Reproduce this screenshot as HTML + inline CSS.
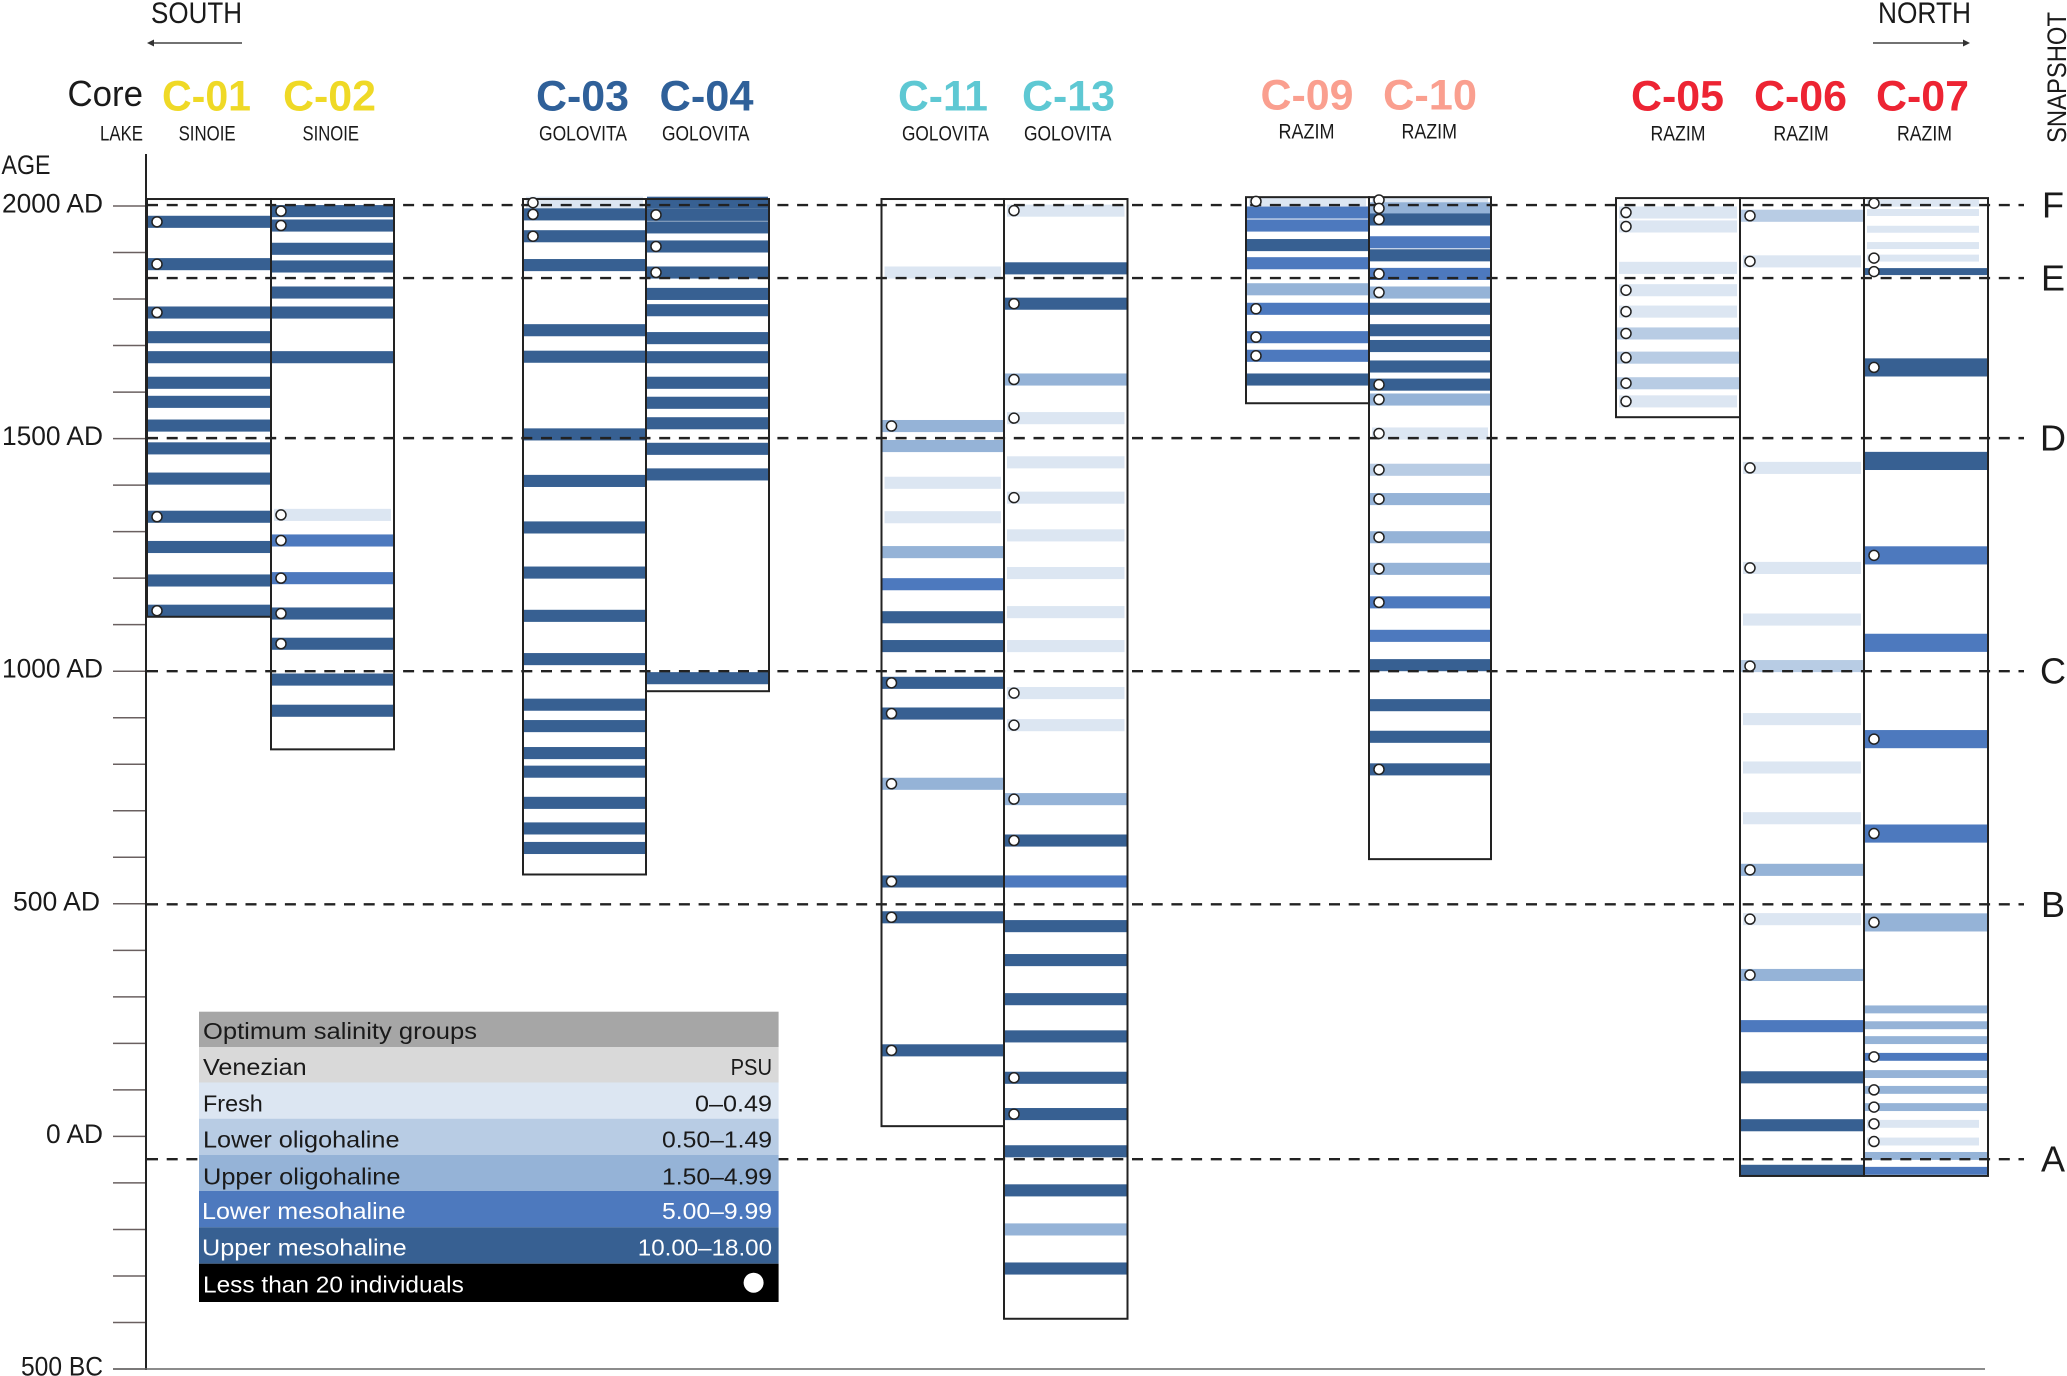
<!DOCTYPE html>
<html lang="en">
<head>
<meta charset="utf-8">
<title>Optimum salinity groups in sediment cores</title>
<style>
html,body{margin:0;padding:0;background:#fff;width:2067px;height:1376px;overflow:hidden}
svg{display:block}
text{font-family:"Liberation Sans",sans-serif;fill:#1a1a1a}
.core{font-weight:700;font-size:43px}
.sub{font-size:21px}
.leg{font-size:23px}
</style>
</head>
<body>
<svg id="chart" xmlns="http://www.w3.org/2000/svg" width="2067" height="1376" viewBox="0 0 2067 1376">
  <rect x="0" y="0" width="2067" height="1376" fill="#fff"/>

  <text x="151" y="23" font-size="30" textLength="91" lengthAdjust="spacingAndGlyphs">SOUTH</text>
  <g><line x1="150" y1="43" x2="242" y2="43" stroke="#444" stroke-width="1.6"/><path d="M147 43l7-3.500v7z" fill="#333"/></g>
  <text x="1878" y="23" font-size="30" textLength="93" lengthAdjust="spacingAndGlyphs">NORTH</text>
  <g><line x1="1873" y1="43" x2="1966" y2="43" stroke="#444" stroke-width="1.6"/><path d="M1970 43l-7-3.500v7z" fill="#333"/></g>
  <text transform="translate(2066,143) rotate(-90)" font-size="27" textLength="131" lengthAdjust="spacingAndGlyphs">SNAPSHOT</text>

  <text x="67.500" y="106" font-size="36" textLength="75.500" lengthAdjust="spacingAndGlyphs">Core</text>
  <text x="100" y="140.700" class="sub" textLength="43" lengthAdjust="spacingAndGlyphs">LAKE</text>
  <text x="1.500" y="174" font-size="27" textLength="49" lengthAdjust="spacingAndGlyphs">AGE</text>

  <text class="core" x="162" y="110.700" style="fill:#efd926" textLength="89" lengthAdjust="spacingAndGlyphs">C-01</text>
  <text class="core" x="283" y="110.700" style="fill:#efd926" textLength="93" lengthAdjust="spacingAndGlyphs">C-02</text>
  <text class="core" x="536" y="110.700" style="fill:#2f6099" textLength="93" lengthAdjust="spacingAndGlyphs">C-03</text>
  <text class="core" x="659.500" y="110.700" style="fill:#2f6099" textLength="94" lengthAdjust="spacingAndGlyphs">C-04</text>
  <text class="core" x="898" y="110.700" style="fill:#5ec8d3" textLength="90" lengthAdjust="spacingAndGlyphs">C-11</text>
  <text class="core" x="1022" y="110.700" style="fill:#5ec8d3" textLength="93" lengthAdjust="spacingAndGlyphs">C-13</text>
  <text class="core" x="1260.500" y="109.300" style="fill:#fa9f8f" textLength="93" lengthAdjust="spacingAndGlyphs">C-09</text>
  <text class="core" x="1383" y="109.300" style="fill:#fa9f8f" textLength="94" lengthAdjust="spacingAndGlyphs">C-10</text>
  <text class="core" x="1631" y="110.700" style="fill:#ed2433" textLength="93" lengthAdjust="spacingAndGlyphs">C-05</text>
  <text class="core" x="1754" y="110.700" style="fill:#ed2433" textLength="93" lengthAdjust="spacingAndGlyphs">C-06</text>
  <text class="core" x="1876" y="110.700" style="fill:#ed2433" textLength="93" lengthAdjust="spacingAndGlyphs">C-07</text>

  <text class="sub" x="178.600" y="140.700" textLength="57" lengthAdjust="spacingAndGlyphs">SINOIE</text>
  <text class="sub" x="302.500" y="140.700" textLength="56.500" lengthAdjust="spacingAndGlyphs">SINOIE</text>
  <text class="sub" x="539" y="140.700" textLength="88" lengthAdjust="spacingAndGlyphs">GOLOVITA</text>
  <text class="sub" x="662" y="140.700" textLength="87.500" lengthAdjust="spacingAndGlyphs">GOLOVITA</text>
  <text class="sub" x="902" y="140.700" textLength="87" lengthAdjust="spacingAndGlyphs">GOLOVITA</text>
  <text class="sub" x="1024" y="140.700" textLength="87.500" lengthAdjust="spacingAndGlyphs">GOLOVITA</text>
  <text class="sub" x="1278.500" y="138.700" textLength="56" lengthAdjust="spacingAndGlyphs">RAZIM</text>
  <text class="sub" x="1401.500" y="138.700" textLength="55.500" lengthAdjust="spacingAndGlyphs">RAZIM</text>
  <text class="sub" x="1650.500" y="140.700" textLength="55" lengthAdjust="spacingAndGlyphs">RAZIM</text>
  <text class="sub" x="1773.400" y="140.700" textLength="55.300" lengthAdjust="spacingAndGlyphs">RAZIM</text>
  <text class="sub" x="1897" y="140.700" textLength="55" lengthAdjust="spacingAndGlyphs">RAZIM</text>

  <g id="marks"></g>

  <g>
    <g><rect x="199" y="1011.700" width="579.600" height="35.300" fill="#a6a6a6"/><text class="leg" x="203" y="1039" textLength="274" lengthAdjust="spacingAndGlyphs">Optimum salinity groups</text></g>
    <g><rect x="199" y="1047" width="579.600" height="35.500" fill="#d9d9d9"/><text class="leg" x="203" y="1075" textLength="103.600" lengthAdjust="spacingAndGlyphs">Venezian</text><text class="leg" x="730.600" y="1075" textLength="41.400" lengthAdjust="spacingAndGlyphs">PSU</text></g>
    <g><rect x="199" y="1082.500" width="579.600" height="36.300" fill="#dce6f2"/><text class="leg" x="203" y="1111.300" textLength="59.800" lengthAdjust="spacingAndGlyphs">Fresh</text><text class="leg" x="695" y="1111.300" textLength="77" lengthAdjust="spacingAndGlyphs">0–0.49</text></g>
    <g><rect x="199" y="1118.700" width="579.600" height="36.300" fill="#b8cce4"/><text class="leg" x="203" y="1147.700" textLength="196.500" lengthAdjust="spacingAndGlyphs">Lower oligohaline</text><text class="leg" x="662" y="1147.700" textLength="110" lengthAdjust="spacingAndGlyphs">0.50–1.49</text></g>
    <g><rect x="199" y="1155" width="579.600" height="36" fill="#95b3d7"/><text class="leg" x="203" y="1184.300" textLength="197.500" lengthAdjust="spacingAndGlyphs">Upper oligohaline</text><text class="leg" x="662" y="1184.300" textLength="110" lengthAdjust="spacingAndGlyphs">1.50–4.99</text></g>
    <g><rect x="199" y="1191" width="579.600" height="36.300" fill="#4d79be"/><text class="leg" style="fill:#fff" x="202" y="1219" textLength="203.600" lengthAdjust="spacingAndGlyphs">Lower mesohaline</text><text class="leg" style="fill:#fff" x="662" y="1219" textLength="110" lengthAdjust="spacingAndGlyphs">5.00–9.99</text></g>
    <g><rect x="199" y="1227.300" width="579.600" height="36.400" fill="#376092"/><text class="leg" style="fill:#fff" x="202" y="1255.700" textLength="204.600" lengthAdjust="spacingAndGlyphs">Upper mesohaline</text><text class="leg" style="fill:#fff" x="637.800" y="1255.700" textLength="134.200" lengthAdjust="spacingAndGlyphs">10.00–18.00</text></g>
    <g><rect x="199" y="1263.700" width="579.600" height="38.300" fill="#000"/><text class="leg" style="fill:#fff" x="203" y="1292.700" textLength="260.800" lengthAdjust="spacingAndGlyphs">Less than 20 individuals</text><circle cx="753.600" cy="1282.700" r="10" fill="#fff"/></g>
  </g>
</svg>

<script>
// Vertical axis (calendar years: negative = BC)
const tickAges = [2000,1900,1800,1700,1600,1500,1400,1300,1200,1100,1000,900,800,700,600,500,400,300,200,100,0,-100,-200,-300,-400,-500];
const labelledAges = [2000,1500,1000,500,0,-500];
const labelledTexts = ["2000 AD","1500 AD","1000 AD","500 AD","0 AD","500 BC"];

// Snapshot horizons
const snapshotNames = ["F","E","D","C","B","A"];
const snapshotAges = [2002,1845,1501,1000,499,-49];

// Salinity groups: 1 fresh, 2 lower oligohaline, 3 upper oligohaline, 4 lower mesohaline, 5 upper mesohaline
const groupNames = ["","fresh","lower-oligohaline","upper-oligohaline","lower-mesohaline","upper-mesohaline"];

// Core extents in years
const coreNames = ["C-01","C-02","C-03","C-04","C-11","C-13","C-09","C-10","C-05","C-06","C-07"];
const coreTopAges = [2015,2015,2015,2015,2015,2015,2019,2019,2017,2017,2017];
const coreBaseAges = [1117,832,563,957,22,-392,1576,596,1546,-85,-85];

// Layers: [age, group, fewer-than-20-individuals flag, optional duration in years]
const c01 = [[1966,5,1],[1875,5,1],[1771,5,1],[1718,5,0],[1675,5,0],[1620,5,0],[1579,5,0],[1528,5,0],[1479,5,0],[1414,5,0],[1332,5,1],[1267,5,0],[1195,5,0],[1130,5,1]];
const c02 = [[1989,5,1],[1958,5,1],[1908,5,0],[1870,5,0],[1814,5,0],[1771,5,0],[1675,5,0],[1336,1,1],[1281,4,1],[1200,4,1],[1124,5,1],[1059,5,1],[982,5,0],[915,5,0]];
const c03 = [[2007,1,1],[1982,5,1],[1935,5,1],[1873,5,0],[1733,5,0],[1676,5,0],[1509,5,0],[1409,5,0],[1309,5,0],[1212,5,0],[1119,5,0],[1026,5,0],[928,5,0],[882,5,0],[824,5,0],[784,5,0],[717,5,0],[662,5,0],[620,5,0]];
const c04 = [[2007,5,0],[1981,5,1],[1954,5,0],[1913,5,1],[1857,5,1],[1811,5,0],[1776,5,0],[1716,5,0],[1675,5,0],[1620,5,0],[1577,5,0],[1533,5,0],[1478,5,0],[1423,5,0],[985,5,0]];
const c11 = [[1857,1,0],[1527,3,1],[1484,3,0],[1405,1,0],[1331,1,0],[1256,3,0],[1187,4,0],[1116,5,0],[1054,5,0],[975,5,1],[909,5,1],[758,3,1],[548,5,1],[471,5,1],[185,5,1]];
const c13 = [[1990,1,1],[1866,5,0],[1790,5,1],[1627,3,1],[1544,1,1],[1449,1,0],[1373,1,1],[1292,1,0],[1211,1,0],[1127,1,0],[1054,1,0],[953,1,1],[884,1,1],[725,3,1],[636,5,1],[548,4,0],[452,5,0],[379,5,0],[295,5,0],[215,5,0],[126,5,1],[48,5,1],[-32,5,0],[-116,5,0],[-200,3,0],[-284,5,0]];
const c09 = [[2010,1,1,20],[1986,4,0],[1958,4,0],[1916,5,0],[1877,4,0],[1821,3,0],[1779,4,1],[1718,4,1],[1678,4,1],[1627,5,0]];
const c10 = [[2013,1,1,14],[1995,3,1],[1971,5,1],[1922,4,0],[1894,5,0],[1854,4,1],[1814,3,1],[1779,5,0],[1733,5,0],[1699,5,0],[1655,5,0],[1616,5,1],[1584,3,1],[1511,1,1],[1433,2,1],[1370,3,1],[1288,3,1],[1220,3,1],[1148,4,1],[1076,4,0],[1013,5,0],[927,5,0],[859,5,0],[789,5,1]];
const c05 = [[1986,1,1],[1956,1,1],[1867,1,0],[1819,1,1],[1773,1,1],[1726,2,1],[1674,2,1],[1619,2,1],[1580,1,1]];
const c06 = [[1979,2,1],[1881,1,1],[1437,1,1],[1222,1,1],[1111,1,0],[1011,2,1],[897,1,0],[793,1,0],[684,1,0],[573,3,1],[467,1,1],[347,3,1],[237,4,0],[127,5,0],[24,5,0],[-74,5,0]];
const c07 = [[2006,1,1,15],[1986,1,0,15],[1950,1,0,15],[1915,1,0,15],[1888,1,1,15],[1859,5,1,15],[1653,5,1,39],[1452,5,0,39],[1249,4,1,39],[1061,4,0,39],[854,4,1,39],[651,4,1,39],[460,3,1,39],[273,3,0,17],[239,3,0,17],[207,3,0,17],[171,4,1,17],[134,3,0,17],[100,3,1,17],[63,3,1,17],[27,1,1,17],[-11,1,1,17],[-42,3,0,17],[-74,4,0,17]];
const coreLayers = [c01,c02,c03,c04,c11,c13,c09,c10,c05,c06,c07];

const DEFAULT_SPAN = 26;

function render() {
  const NS = "http://www.w3.org/2000/svg";
  const root = document.getElementById("marks");
  const colours = ["", "#dce6f2", "#b8cce4", "#95b3d7", "#4d79be", "#376092"];
  const lefts = [147,271,523,646,881.5,1004,1246,1369,1616,1740,1864];
  const widths = [124,123,123,123,122.500,123.500,123,122,124,124,124];
  const yOf = function (age) { return 206 + (2000 - age) * 0.4652; };
  const hOf = function (years) { return years * 0.4652; };

  function make(tag, attrs, parent) {
    const el = document.createElementNS(NS, tag);
    Object.keys(attrs).forEach(function (k) { el.setAttribute(k, attrs[k]); });
    parent.appendChild(el);
    return el;
  }

  // Axis
  const axis = make("g", {}, root);
  
  
  tickAges.forEach(function (age) {
    const t = make("line", {x1:113, x2:146, y1:yOf(age), y2:yOf(age), stroke:"#6a6060", "stroke-width":1.5}, axis);
    
    
  });
  const spine = make("line", {x1:146, x2:146, y1:154, y2:yOf(-500)+1, stroke:"#222", "stroke-width":2}, axis);
  
  
  const base = make("line", {x1:113, x2:1985, y1:yOf(-500), y2:yOf(-500), stroke:"#666", "stroke-width":1.5}, axis);
  
  
  labelledAges.forEach(function (age, i) {
    const txt = labelledTexts[i];
    const width = txt.length === 7 ? 101 : (txt === "500 AD" ? 87 : (txt === "500 BC" ? 82 : 57));
    const right = txt === "500 AD" ? 100 : 103;
    const lab = make("text", {x:right - width, y:yOf(age) + 6.5, "font-size":27, textLength:width, lengthAdjust:"spacingAndGlyphs"}, axis);
    lab.textContent = txt;
    
    
  });

  // Layers
  coreNames.forEach(function (name, c) {
    const g = make("g", {}, root);
    
    
    const left = lefts[c];
    coreLayers[c].forEach(function (layer) {
      const span = layer[3] || DEFAULT_SPAN;
      const isFresh = layer[1] === 1;
      const x0 = left + (isFresh ? 3 : 1);
      const x1 = left + widths[c] - (isFresh ? (name === "C-07" ? 9 : 3) : 1);
      const b = make("rect", {x:x0, y:yOf(layer[0]) - hOf(span)/2, width:x1 - x0, height:hOf(span), fill:colours[layer[1]]}, g);
      
      
    });
  });

  // Core outlines
  coreNames.forEach(function (name, c) {
    const top = yOf(coreTopAges[c]);
    const box = make("rect", {x:lefts[c], y:top, width:widths[c], height:yOf(coreBaseAges[c]) - top, fill:"none", stroke:"#222", "stroke-width":2}, root);
    
    
  });

  // Snapshot horizons
  snapshotNames.forEach(function (s, i) {
    const y = yOf(snapshotAges[i]);
    const line = make("line", {x1:147, x2:2024, y1:y, y2:y, stroke:"#222", "stroke-width":2.4, "stroke-dasharray":"11 8.700"}, root);
    
    
    const lab = make("text", {x:2053, y:y + 12.5, "font-size":36, "text-anchor":"middle"}, root);
    lab.textContent = s;
    
    
  });

  // Low-count markers
  coreNames.forEach(function (name, c) {
    coreLayers[c].forEach(function (layer) {
      if (!layer[2]) return;
      const dot = make("circle", {cx:lefts[c] + 10, cy:yOf(layer[0]), r:5, fill:"#fff", stroke:"#222", "stroke-width":1.5}, root);
      
      
    });
  });
}
render();
</script>
</body>
</html>
